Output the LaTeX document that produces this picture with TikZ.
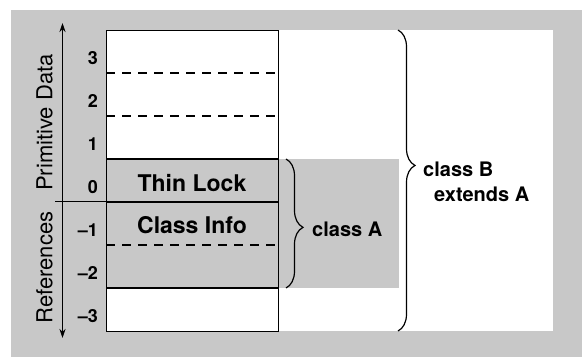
\documentclass[tikz,border=0pt]{standalone}
\usepackage{fontspec}
\setmainfont{TeX Gyre Heros}
\usepackage{xcolor}
\usepackage{tikz}
\usetikzlibrary{positioning, arrows.meta, decorations.pathreplacing}

\definecolor{panel}{RGB}{200,200,200}

\begin{document}
\begin{tikzpicture}[x=1pt, y=-1pt,
        word/.style={font=\fontsize{23}{26}\selectfont\bfseries, inner sep=0pt, anchor=base},
        index/.style={font=\fontsize{18}{20}\selectfont\bfseries, inner sep=0pt, anchor=base east},
        region/.style={font=\fontsize{22}{26}\selectfont, inner sep=0pt, rotate=90, anchor=south},
        classlbl/.style={font=\fontsize{20}{24}\selectfont\bfseries, inner sep=0pt, anchor=base west},
        slotline/.style={line width=1.4pt},
        dashline/.style={line width=1.3pt, dash pattern=on 9pt off 7pt},
        brace/.style={decorate, decoration={brace, amplitude=17pt, aspect=#1}, line width=1.2pt},
        arrow/.style={{Stealth[length=9pt, width=6pt]}-{Stealth[length=9pt, width=6pt]}, line width=1.3pt}
    ]
    \useasboundingbox (0,0) rectangle (582,358);
    \fill[panel] (11,10) rectangle (582,357);
    \fill[white] (106,30) rectangle (553,331);
    \fill[panel] (106,159) rectangle (399,288);

    % object layout
    \node[draw, slotline, minimum width=172pt, minimum height=301pt, inner sep=0pt, anchor=north west] (obj) at (106,30) {};
    \draw[dashline] (106,73) -- (278,73);
    \draw[dashline] (106,116) -- (278,116);
    \draw[slotline] (106,159) -- (278,159);
    \draw[line width=2.6pt] (106,202) -- (278,202);
    \draw[line width=1pt] (55,202) -- (106,202);
    \draw[dashline] (106,245) -- (278,245);
    \draw[slotline] (106,288) -- (278,288);

    \node[word] (lock) at (192,192) {Thin Lock};
    \node[word] (info) at (192,234) {Class Info};

    % slot numbers
    \node[index] (n3) at (98,65) {3};
    \node[index] (n2) at (98,108) {2};
    \node[index] (n1) at (98,151) {1};
    \node[index] (n0) at (98,194) {0};
    \node[index] (m1) at (98,237) {--1};
    \node[index] (m2) at (98,280) {--2};
    \node[index] (m3) at (98,323) {--3};

    % direction of growth
    \coordinate (up) at (62.5,23);
    \coordinate (down) at (62.5,338);
    \draw[arrow] (up) -- (down);
    \node[region] (prim) at (53,122.5) {Primitive Data};
    \node[region] (refs) at (53,267.5) {References};

    % classes
    \draw[brace=0.53] (286,159) -- (286,288);
    \node[classlbl] (clsA) at (312,237) {class A};
    \draw[brace=0.45] (398,30) -- (398,331);
    \node[classlbl] (clsB) at (423,177) {class B};
    \node[classlbl] (ext) at (434,202) {extends A};
\end{tikzpicture}
\end{document}
